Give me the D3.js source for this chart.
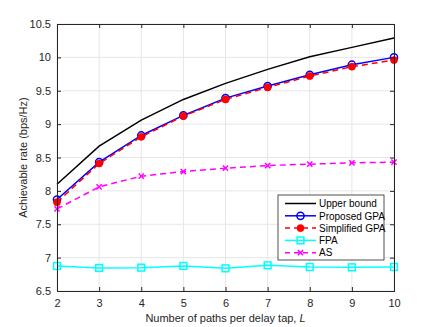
<!DOCTYPE html>
<html>
<head>
<meta charset="utf-8">
<script src="https://cdn.jsdelivr.net/npm/d3@7"></script>
<style>
  body { margin: 0; background: #fff; }
  text { font-family: "Liberation Sans", Arial, sans-serif; }
</style>
</head>
<body>
<script>
var pathsL = [2, 3, 4, 5, 6, 7, 8, 9, 10];
var upperBound   = [8.10, 8.67, 9.06, 9.37, 9.61, 9.82, 10.01, 10.15, 10.29];
var proposedGPA  = [7.87, 8.43, 8.83, 9.13, 9.39, 9.57, 9.74, 9.89, 10.00];
var simplifiedGPA= [7.83, 8.41, 8.81, 9.12, 9.37, 9.55, 9.72, 9.86, 9.96];
var fpa          = [6.875, 6.845, 6.85, 6.875, 6.84, 6.885, 6.86, 6.855, 6.86];
var as           = [7.73, 8.06, 8.22, 8.29, 8.34, 8.38, 8.40, 8.42, 8.43];
var yTicks = [6.5, 7, 7.5, 8, 8.5, 9, 9.5, 10, 10.5];
var seriesNames = ["Upper bound", "Proposed GPA", "Simplified GPA", "FPA", "AS"];

var width = 436, height = 327;
var margin = {left: 57, right: 42, top: 24, bottom: 36};

var svg = d3.select("body").append("svg")
    .attr("width", width)
    .attr("height", height);

var x = d3.scaleLinear().domain([2, 10]).range([margin.left, width - margin.right]);
var y = d3.scaleLinear().domain([6.5, 10.5]).range([height - margin.bottom, margin.top]);

// grid
svg.append("g").selectAll("line")
    .data(pathsL).enter().append("line")
    .attr("x1", function(d){ return x(d); }).attr("x2", function(d){ return x(d); })
    .attr("y1", y(6.5)).attr("y2", y(10.5))
    .attr("stroke", "#e6e6e6").attr("stroke-width", 1);
svg.append("g").selectAll("line")
    .data(yTicks).enter().append("line")
    .attr("y1", function(d){ return y(d); }).attr("y2", function(d){ return y(d); })
    .attr("x1", x(2)).attr("x2", x(10))
    .attr("stroke", "#e6e6e6").attr("stroke-width", 1);

var series = [
  {name: seriesNames[0], values: upperBound, color: "#000000", dash: null, marker: "none"},
  {name: seriesNames[1], values: proposedGPA, color: "#0000ff", dash: null, marker: "circle"},
  {name: seriesNames[2], values: simplifiedGPA, color: "#ff0000", dash: "6,4", marker: "dot"},
  {name: seriesNames[3], values: fpa, color: "#00ffff", dash: null, marker: "square"},
  {name: seriesNames[4], values: as, color: "#ff00ff", dash: "6,4", marker: "x"}
];

var line = d3.line()
    .x(function(d){ return x(d[0]); })
    .y(function(d){ return y(d[1]); });

function drawMarker(g, type, cx, cy, color) {
  if (type === "circle") {
    g.append("circle").attr("cx", cx).attr("cy", cy).attr("r", 3.6)
      .attr("fill", "none").attr("stroke", color).attr("stroke-width", 1.5);
  } else if (type === "dot") {
    g.append("circle").attr("cx", cx).attr("cy", cy).attr("r", 3.6)
      .attr("fill", color).attr("stroke", color).attr("stroke-width", 0.5);
  } else if (type === "square") {
    g.append("rect").attr("x", cx - 3.4).attr("y", cy - 3.4).attr("width", 6.8).attr("height", 6.8)
      .attr("fill", "none").attr("stroke", color).attr("stroke-width", 1.5);
  } else if (type === "x") {
    var s = 2.6;
    g.append("path").attr("d", "M" + (cx - s) + "," + (cy - s) + "L" + (cx + s) + "," + (cy + s) +
        "M" + (cx - s) + "," + (cy + s) + "L" + (cx + s) + "," + (cy - s))
      .attr("stroke", color).attr("stroke-width", 1.5).attr("fill", "none");
  }
}

series.forEach(function(s){
  var pts = pathsL.map(function(l, i){ return [l, s.values[i]]; });
  svg.append("path")
    .datum(pts)
    .attr("d", line)
    .attr("fill", "none")
    .attr("stroke", s.color)
    .attr("stroke-width", 1.5)
    .attr("stroke-dasharray", s.dash);
  var g = svg.append("g");
  pts.forEach(function(p){ drawMarker(g, s.marker, x(p[0]), y(p[1]), s.color); });
});

// axes
var xAxis = svg.append("g")
    .attr("transform", "translate(0," + y(6.5) + ")")
    .call(d3.axisBottom(x).tickValues(pathsL).tickSize(-4).tickPadding(8).tickFormat(d3.format("d")));
var yAxis = svg.append("g")
    .attr("transform", "translate(" + x(2) + ",0)")
    .call(d3.axisLeft(y).tickValues(yTicks).tickSize(-4).tickPadding(6).tickFormat(function(d){ return d; }));
// top/right mirrored ticks
svg.append("g")
    .attr("transform", "translate(0," + y(10.5) + ")")
    .call(d3.axisTop(x).tickValues(pathsL).tickSize(-4).tickFormat(""));
svg.append("g")
    .attr("transform", "translate(" + x(10) + ",0)")
    .call(d3.axisRight(y).tickValues(yTicks).tickSize(-4).tickFormat(""));

svg.selectAll(".domain").attr("stroke", "#262626");
svg.selectAll(".tick line").attr("stroke", "#262626");
svg.selectAll(".tick text").attr("fill", "#262626").style("font-size", "11px")
    .style("font-family", "'Liberation Sans', Arial, sans-serif");

// axis labels
var xl = svg.append("text")
    .attr("x", (x(2) + x(10)) / 2)
    .attr("y", 322)
    .attr("text-anchor", "middle")
    .attr("fill", "#262626")
    .style("font-size", "11px");
xl.append("tspan").text("Number of paths per delay tap, ");
xl.append("tspan").style("font-style", "italic").text("L");

svg.append("text")
    .attr("transform", "translate(27," + ((y(6.5) + y(10.5)) / 2) + ") rotate(-90)")
    .attr("text-anchor", "middle")
    .attr("fill", "#262626")
    .style("font-size", "11px")
    .text("Achievable rate (bps/Hz)");

// legend
var lg = svg.append("g").attr("transform", "translate(278,195)");
lg.append("rect").attr("width", 106).attr("height", 65)
  .attr("fill", "#fff").attr("stroke", "#262626").attr("stroke-width", 0.8);
series.forEach(function(s, i){
  var yy = 8.5 + i * 12.3;
  lg.append("line").attr("x1", 7).attr("x2", 38).attr("y1", yy).attr("y2", yy)
    .attr("stroke", s.color).attr("stroke-width", 1.5)
    .attr("stroke-dasharray", s.dash ? "5,4" : null);
  drawMarker(lg, s.marker, 22.5, yy, s.color);
  lg.append("text").attr("x", 41).attr("y", yy + 3.7)
    .attr("fill", "#000").style("font-size", "10px").text(s.name);
});
</script>
</body>
</html>
